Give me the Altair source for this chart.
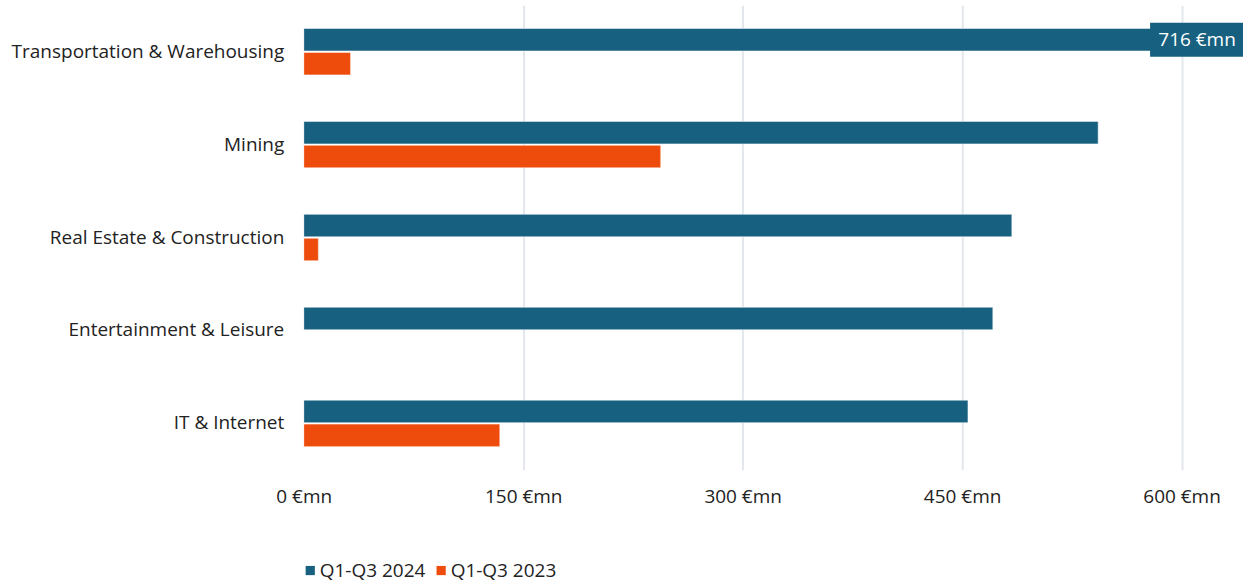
import altair as alt
import pandas as pd

categories = ["Transportation & Warehousing", "Mining", "Real Estate & Construction",
              "Entertainment & Leisure", "IT & Internet"]
series = ["Q1-Q3 2024", "Q1-Q3 2023"]
values_2024 = [716, 543, 484, 471, 454]
values_2023 = [32, 244, 10, 0, 134]
colors = ["#17607f", "#ee4c0c"]
tick_values = [0, 150, 300, 450, 600]

rows = []
for c, a, b in zip(categories, values_2024, values_2023):
    rows.append({"category": c, "series": series[0], "value": a})
    rows.append({"category": c, "series": series[1], "value": b})
df = pd.DataFrame(rows)

W = 940
H = 465
FONT = "Open Sans"
FS = 19

y_enc = alt.Y("category:N", sort=categories, title=None,
              scale=alt.Scale(paddingInner=0.5, paddingOuter=0.25),
              axis=alt.Axis(labelFontSize=FS, labelColor="#222222", labelFont=FONT,
                            ticks=False, domain=False, labelPadding=20, labelLimit=400))
yoff = alt.YOffset("series:N", sort=series, scale=alt.Scale(paddingInner=0.06))

bars = alt.Chart(df).mark_bar(clip=True, stroke="white", strokeWidth=1, strokeOpacity=0.5).encode(
    x=alt.X("value:Q", title=None,
            scale=alt.Scale(domain=[0, 642], nice=False),
            axis=alt.Axis(values=tick_values, labelExpr="datum.value + ' €mn'",
                          labelFontSize=FS, labelColor="#222222", labelFont=FONT,
                          ticks=False, domain=False, labelPadding=18, labelFlush=False,
                          grid=True, gridColor="#e3e7eb", gridWidth=2,
                          gridOpacity=alt.condition("datum.value == 0", alt.value(0), alt.value(1)))),
    y=y_enc,
    yOffset=yoff,
    color=alt.Color("series:N", sort=series,
                    scale=alt.Scale(domain=series, range=colors),
                    legend=alt.Legend(title=None, orient="none", direction="horizontal",
                                      legendX=-3, legendY=556, symbolType="square",
                                      symbolSize=85, symbolStrokeWidth=0,
                                      labelFontSize=FS, labelColor="#222222", labelFont=FONT,
                                      columnPadding=6, labelOffset=0, padding=0)),
)

top = df[df["value"] == max(values_2024)]

box = alt.Chart(top).mark_bar(height=34, color="#17607f").encode(
    x=alt.value(W - 93), x2=alt.value(W),
    y=alt.Y("category:N", sort=categories),
    yOffset=alt.YOffset("series:N", sort=series),
)
label = alt.Chart(top).mark_text(color="white", fontSize=FS, font=FONT, align="center",
                                 baseline="middle").encode(
    x=alt.value(W - 46),
    y=alt.Y("category:N", sort=categories),
    yOffset=alt.YOffset("series:N", sort=series),
    text=alt.Text("label:N"),
).transform_calculate(label="datum.value + ' €mn'")

chart = alt.layer(bars, box, label).properties(
    width=W, height=H,
    padding={"left": 10, "top": 5, "right": 4, "bottom": 5},
).configure(font=FONT, background="white").configure_view(strokeWidth=0, stroke="transparent")

chart.save("out.html", embed_options={"renderer": "svg", "actions": False})
